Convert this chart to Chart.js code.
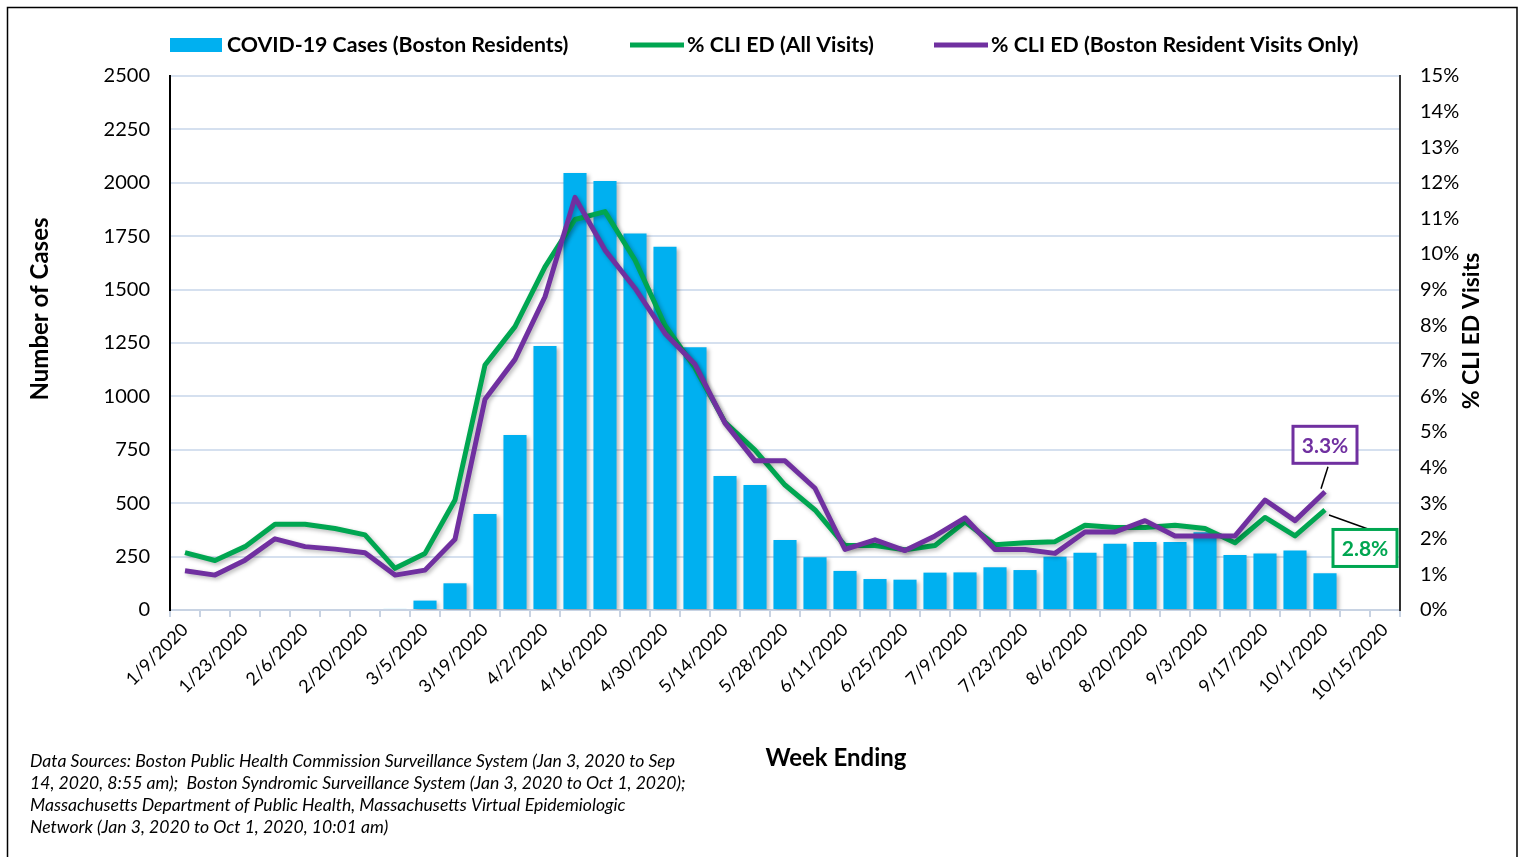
<!DOCTYPE html>
<html><head><meta charset="utf-8">
<script src="https://cdn.jsdelivr.net/npm/chart.js@4.4.1/dist/chart.umd.min.js"></script>
<style>html,body{margin:0;padding:0;background:#fff;overflow:hidden}</style>
</head><body>
<canvas id="c" width="1523" height="857"></canvas>
<script>
// ---- data ----
const weekLabels = ['1/9/2020','1/16/2020','1/23/2020','1/30/2020','2/6/2020','2/13/2020','2/20/2020','2/27/2020',
  '3/5/2020','3/12/2020','3/19/2020','3/26/2020','4/2/2020','4/9/2020','4/16/2020','4/23/2020','4/30/2020',
  '5/7/2020','5/14/2020','5/21/2020','5/28/2020','6/4/2020','6/11/2020','6/18/2020','6/25/2020','7/2/2020',
  '7/9/2020','7/16/2020','7/23/2020','7/30/2020','8/6/2020','8/13/2020','8/20/2020','8/27/2020','9/3/2020',
  '9/10/2020','9/17/2020','9/24/2020','10/1/2020','10/8/2020','10/15/2020'];
const casesBoston = [0,0,0,0,0,0,0,5,44,125,450,819,1236,2046,2008,1763,1701,1230,627,585,328,247,183,145,142,175,
  176,200,187,249,268,310,318,318,364,257,265,278,172,null,null];
const cliAllVisits = [1.61,1.39,1.78,2.41,2.41,2.29,2.11,1.17,1.59,3.09,6.88,7.96,9.64,10.97,11.19,9.83,8.0,6.8,5.27,
  4.49,3.51,2.81,1.81,1.81,1.69,1.81,2.48,1.83,1.89,1.92,2.38,2.32,2.32,2.38,2.29,1.89,2.60,2.08,2.81,null,null];
const cliBostonVisits = [1.10,0.98,1.40,2.00,1.78,1.71,1.61,0.98,1.12,1.99,5.92,7.04,8.80,11.59,10.11,9.04,7.77,6.90,5.25,
  4.19,4.19,3.42,1.70,1.97,1.67,2.08,2.59,1.70,1.70,1.59,2.19,2.19,2.51,2.08,2.08,2.08,3.09,2.51,3.32,null,null];
const caseAxis = {min:0, max:2500, step:250};
const pctAxis = {min:0, max:15, step:1};
const seriesNames = ['COVID-19 Cases (Boston Residents)','% CLI ED (All Visits)','% CLI ED (Boston Resident Visits Only)'];
const footnoteLines = [
  'Data Sources: Boston Public Health Commission Surveillance System (Jan 3, 2020 to Sep',
  '14, 2020, 8:55 am);  Boston Syndromic Surveillance System (Jan 3, 2020 to Oct 1, 2020);',
  'Massachusetts Department of Public Health, Massachusetts Virtual Epidemiologic',
  'Network (Jan 3, 2020 to Oct 1, 2020, 10:01 am)'];

const BLUE='#00B0F0', GREEN='#00A651', PURPLE='#7030A0';
const FF = 'Lato, "Open Sans", sans-serif';

function lastIdx(arr){ for(let i=arr.length-1;i>=0;i--) if(arr[i]!=null) return i; return -1; }

const deco = {
  id:'deco',
  beforeDatasetDraw(chart){ const c=chart.ctx; c.save(); c.shadowColor='rgba(0,0,0,0.28)'; c.shadowBlur=4; c.shadowOffsetX=2; c.shadowOffsetY=2; },
  afterDatasetDraw(chart){ chart.ctx.restore(); },
  afterDraw(chart){
    const c = chart.ctx;
    c.save();
    // legend
    c.textBaseline='middle'; c.textAlign='left'; c.fillStyle='#000';
    c.font='bold 21.3px '+FF;
    c.fillStyle=BLUE; c.fillRect(170,38,52,14);
    c.fillStyle='#000'; c.fillText(seriesNames[0],227,45);
    c.strokeStyle=GREEN; c.lineWidth=5; c.beginPath(); c.moveTo(630,45); c.lineTo(684,45); c.stroke();
    c.fillText(seriesNames[1],687,45);
    c.strokeStyle=PURPLE; c.beginPath(); c.moveTo(934,45); c.lineTo(988,45); c.stroke();
    c.fillText(seriesNames[2],991,45);
    // axis titles
    c.textAlign='center';
    c.font='bold 24px '+FF;
    c.save(); c.translate(40,309); c.rotate(-Math.PI/2); c.fillText('Number of Cases',0,0); c.restore();
    c.font='bold 23px '+FF;
    c.save(); c.translate(1472,331); c.rotate(-Math.PI/2); c.fillText('% CLI ED Visits',0,0); c.restore();
    c.font='bold 24px '+FF;
    c.fillText('Week Ending',836,758);
    // footnote
    c.font='italic 17.6px '+FF; c.textAlign='left';
    footnoteLines.forEach((t,i)=>c.fillText(t,30,761+i*22));
    // annotations
    const boxes = [
      {ds:2, data:cliBostonVisits, col:PURPLE, dx:0, dy:-47, l:[3,-25,-4,-3]},
      {ds:1, data:cliAllVisits, col:GREEN, dx:40, dy:38, l:[4,5,43,19]}
    ];
    boxes.forEach(b=>{
      const i = lastIdx(b.data);
      const p = chart.getDatasetMeta(b.ds).data[i];
      c.strokeStyle='#000'; c.lineWidth=1.5;
      c.beginPath(); c.moveTo(p.x+b.l[0],p.y+b.l[1]); c.lineTo(p.x+b.l[2],p.y+b.l[3]); c.stroke();
      const cx=p.x+b.dx, cy=p.y+b.dy, w=64, h=37;
      c.fillStyle='#fff'; c.fillRect(cx-w/2,cy-h/2,w,h);
      c.strokeStyle=b.col; c.lineWidth=3; c.strokeRect(cx-w/2,cy-h/2,w,h);
      c.fillStyle=b.col; c.font='bold 21px '+FF; c.textAlign='center';
      c.fillText(b.data[i].toFixed(1)+'%',cx,cy+1);
    });
    // outer border
    c.strokeStyle='#000'; c.lineWidth=1.5; c.strokeRect(7.5,7.5,1509.5,880);
    c.restore();
  }
};

new Chart(document.getElementById('c'), {
  type:'bar',
  data:{
    labels: weekLabels,
    datasets:[
      {type:'bar', label:seriesNames[0], data:casesBoston, yAxisID:'y', backgroundColor:BLUE,
       barPercentage:0.77, categoryPercentage:1, order:3},
      {type:'line', label:seriesNames[1], data:cliAllVisits, yAxisID:'y1', borderColor:GREEN, borderWidth:5,
       pointRadius:0, tension:0, borderJoinStyle:'round', spanGaps:false, order:2},
      {type:'line', label:seriesNames[2], data:cliBostonVisits, yAxisID:'y1', borderColor:PURPLE, borderWidth:5,
       pointRadius:0, tension:0, borderJoinStyle:'round', spanGaps:false, order:1}
    ]
  },
  options:{
    responsive:false, animation:false, devicePixelRatio:1,
    layout:{padding:{top:76,left:0,right:0,bottom:0}},
    plugins:{legend:{display:false}, tooltip:{enabled:false}},
    scales:{
      x:{
        offset:true,
        grid:{offset:true, drawOnChartArea:false, drawTicks:true, tickLength:7, color:'#C8D3E3', lineWidth:2},
        border:{color:'#C8D3E3', width:2},
        ticks:{autoSkip:false, maxRotation:45, minRotation:45, padding:2, color:'#000',
          font:{family:FF, size:18},
          callback:(v,i)=> i%2===0 ? weekLabels[i] : ''},
        afterFit:(s)=>{ s.height = 857-610; }
      },
      y:{
        position:'left', min:caseAxis.min, max:caseAxis.max,
        ticks:{stepSize:caseAxis.step, padding:20, color:'#000', font:{family:FF, size:20},
          callback:(v)=> String(v)},
        grid:{color:'#D5E0EF', lineWidth:2, drawTicks:false},
        border:{color:'#000', width:2},
        afterFit:(s)=>{ s.width = 170; }
      },
      y1:{
        position:'right', min:pctAxis.min, max:pctAxis.max,
        ticks:{stepSize:pctAxis.step, padding:20, color:'#000', font:{family:FF, size:20},
          callback:(v)=> v+'%'},
        grid:{drawOnChartArea:false, drawTicks:false},
        border:{color:'#333', width:2},
        afterFit:(s)=>{ s.width = 1523-1400; }
      }
    }
  },
  plugins:[deco]
});
</script>
</body></html>
